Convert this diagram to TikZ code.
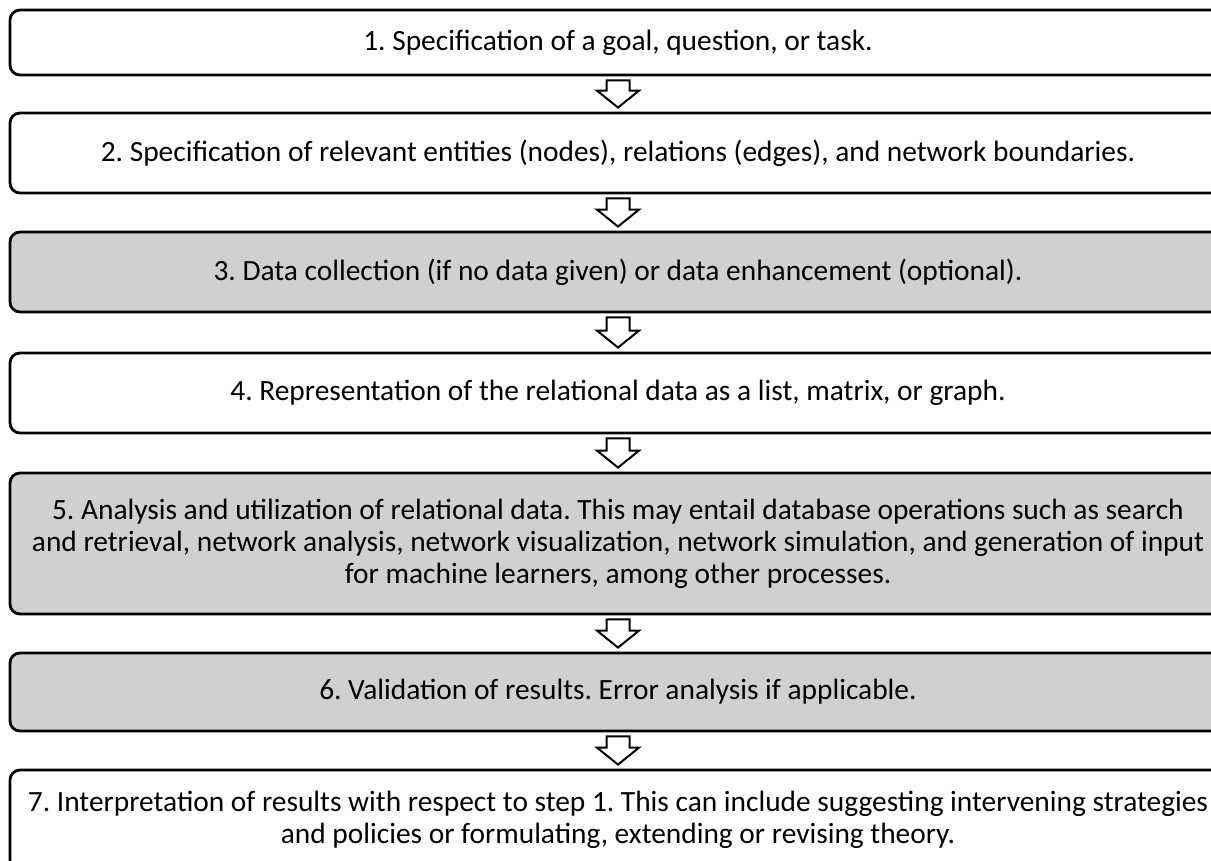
\documentclass[tikz,border=0pt]{standalone}
\usepackage{fontspec}
\setmainfont{Carlito}
\usetikzlibrary{calc}
\definecolor{boxgrey}{RGB}{208,208,208}
\frenchspacing

\def\px{0.5pt}
\def\gap{2pt}

\begin{document}
\begin{tikzpicture}[x=\px, y=-\px]
	\tikzset{stage/.style={draw, line width=1.4pt, rounded corners=5pt, minimum width=1216*\px, inner sep=0pt, align=center, font=\fontsize{14.7}{16}\selectfont},
		grey/.style={fill=boxgrey},
		flow/.style={line width=1pt, line join=miter, to path={let \p1=(\tikztostart), \p2=(\tikztotarget) in
			(\x1-5.75pt,\y1-\gap) -- (\x1+5.75pt,\y1-\gap) -- (\x1+5.75pt,\y2+10.5pt) -- (\x1+10.5pt,\y2+10.5pt)
			-- (\x1,\y2+\gap) -- (\x1-10.5pt,\y2+10.5pt) -- (\x1-5.75pt,\y2+10.5pt) -- cycle}}}
	\useasboundingbox (0,0) rectangle (1211,861);
	\clip (0,0) rectangle (1211,861);
	\node[stage, minimum height=65*\px](1) at (618,42.5){1. Specification of a goal, question, or task.};
	\node[stage, minimum height=80*\px](2) at (618,153){2. Specification of relevant entities (nodes), relations (edges), and network boundaries.};
	\node[stage, grey, minimum height=80*\px](3) at (618,272){3. Data collection (if no data given) or data enhancement (optional).};
	\node[stage, minimum height=80*\px](4) at (618,393){4. Representation of the relational data as a list, matrix, or graph.};
	\node[stage, grey, minimum height=141*\px](5) at (618,543.5){5. Analysis and utilization of relational data. This may entail database operations such as search\\and retrieval, network analysis, network visualization, network simulation, and generation of input\\for machine learners, among other processes.};
	\node[stage, grey, minimum height=78*\px](6) at (618,692){6. Validation of results. Error analysis if applicable.};
	\node[stage, minimum height=100*\px](7) at (618,820){7. Interpretation of results with respect to step 1. This can include suggesting intervening strategies\\and policies or formulating, extending or revising theory.};
	\draw[flow] (1.south) to (2.north);
	\draw[flow] (2.south) to (3.north);
	\draw[flow] (3.south) to (4.north);
	\draw[flow] (4.south) to (5.north);
	\draw[flow] (5.south) to (6.north);
	\draw[flow] (6.south) to (7.north);
\end{tikzpicture}
\end{document}
